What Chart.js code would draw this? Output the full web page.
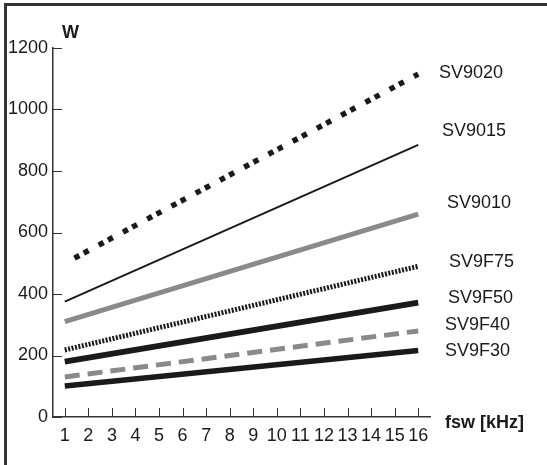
<!DOCTYPE html>
<html>
<head>
<meta charset="utf-8">
<script src="https://cdn.jsdelivr.net/npm/chart.js@4"></script>
<style>
  html, body { margin: 0; padding: 0; background: #fff; overflow: hidden; }
  canvas { display: block; }
</style>
</head>
<body>
<canvas id="chart" width="547" height="465"></canvas>
<script>
// ===============================
// DATA
// ===============================
const fsw = [1, 16];               // kHz, ends of each line
const xTicks = [1, 2, 3, 4, 5, 6, 7, 8, 9, 10, 11, 12, 13, 14, 15, 16];
const yTicks = [0, 200, 400, 600, 800, 1000, 1200];

const seriesNames = ["SV9020", "SV9015", "SV9010", "SV9F75", "SV9F50", "SV9F40", "SV9F30"];
const sv9020 = [500, 1115];
const sv9015 = [375, 885];
const sv9010 = [310, 660];
const sv9f75 = [218, 490];
const sv9f50 = [180, 372];
const sv9f40 = [130, 280];
const sv9f30 = [101, 216];
const seriesValues = [sv9020, sv9015, sv9010, sv9f75, sv9f50, sv9f40, sv9f30];

// ===============================
// STYLES
// ===============================
const FONT = "'Liberation Sans', Arial, Helvetica, sans-serif";
const INK = "#1a1a1a";
const GREY = "#8a8a8a";

const lineStyles = [
  { color: INK,  width: 5.5, dash: [5.5, 5, 5.5, 11.5], offset: 16.5 },
  { color: INK,  width: 2,   dash: [] },
  { color: GREY, width: 5,   dash: [] },
  { color: INK,  width: 5,   dash: [2, 1.5] },
  { color: INK,  width: 6,   dash: [] },
  { color: GREY, width: 5,   dash: [15, 8] },
  { color: INK,  width: 5.5, dash: [] }
];

// label placement (px), right of the plot
const labelPos = [
  { x: 439, y: 73 },
  { x: 442, y: 131 },
  { x: 447, y: 203 },
  { x: 449, y: 262 },
  { x: 448, y: 298 },
  { x: 445, y: 325 },
  { x: 445, y: 351 }
];

// ===============================
// PLUGINS
// ===============================
// open frame: only left and top edges show in the picture
const frame = {
  id: "frame",
  beforeDraw(chart) {
    const ctx = chart.ctx;
    ctx.save();
    ctx.strokeStyle = "#333";
    ctx.lineWidth = 3;
    ctx.beginPath();
    ctx.moveTo(5.5, chart.height);
    ctx.lineTo(5.5, 4.5);
    ctx.lineTo(chart.width, 4.5);
    ctx.stroke();
    ctx.restore();
  }
};

const innerTicks = {
  id: "innerTicks",
  afterDraw(chart) {
    const ctx = chart.ctx;
    const xs = chart.scales.x;
    const ys = chart.scales.y;
    ctx.save();
    ctx.strokeStyle = "#333";
    ctx.lineWidth = 1;
    ctx.beginPath();
    ys.ticks.forEach(t => {
      const y = Math.round(ys.getPixelForValue(t.value)) + 0.5;
      ctx.moveTo(xs.left, y);
      ctx.lineTo(xs.left + 9, y);
    });
    xs.ticks.forEach(t => {
      const x = Math.round(xs.getPixelForValue(t.value)) + 0.5;
      ctx.moveTo(x, ys.bottom);
      ctx.lineTo(x, ys.bottom - 9);
    });
    ctx.stroke();
    ctx.restore();
  }
};

const textPlugin = {
  id: "textPlugin",
  afterDraw(chart) {
    const ctx = chart.ctx;
    const xs = chart.scales.x;
    const ys = chart.scales.y;
    ctx.save();
    ctx.fillStyle = INK;
    ctx.textBaseline = "middle";
    ctx.textAlign = "left";

    ctx.font = "18px " + FONT;
    chart.data.datasets.forEach((ds, i) => {
      ctx.fillText(ds.label, labelPos[i].x, labelPos[i].y);
    });

    ctx.font = "bold 18px " + FONT;
    ctx.fillText("W", xs.left + 9, ys.top - 15);
    ctx.fillText("fsw [kHz]", xs.right + 15, ys.bottom + 6);
    ctx.restore();
  }
};

// ===============================
// CHART
// ===============================
const datasets = seriesNames.map((name, i) => ({
  label: name,
  data: fsw.map((x, j) => ({ x, y: seriesValues[i][j] })),
  borderColor: lineStyles[i].color,
  borderWidth: lineStyles[i].width,
  borderDash: lineStyles[i].dash,
  borderDashOffset: lineStyles[i].offset || 0,
  borderCapStyle: "butt",
  pointRadius: 0,
  tension: 0,
  fill: false
}));

new Chart(document.getElementById("chart"), {
  type: "line",
  data: { datasets },
  options: {
    responsive: false,
    animation: false,
    layout: { padding: { top: 48, right: 117, left: 0, bottom: 0 } },
    plugins: {
      legend: { display: false },
      tooltip: { enabled: false }
    },
    scales: {
      x: {
        type: "linear",
        min: 0.5,
        max: 16.5,
        afterBuildTicks: s => { s.ticks = xTicks.map(v => ({ value: v })); },
        afterFit: s => { s.height = 48; },
        grid: { display: false, drawTicks: false },
        border: { display: true, color: "#333", width: 1.5 },
        ticks: {
          color: INK,
          padding: 8,
          maxRotation: 0,
          autoSkip: false,
          callback: v => String(v),
          font: { family: FONT, size: 18 }
        }
      },
      y: {
        type: "linear",
        min: 0,
        max: 1200,
        afterBuildTicks: s => { s.ticks = yTicks.map(v => ({ value: v })); },
        afterFit: s => { s.width = 53; },
        grid: { display: false, drawTicks: false },
        border: { display: true, color: "#333", width: 1.5 },
        ticks: {
          color: INK,
          padding: 5,
          callback: v => String(v),
          font: { family: FONT, size: 18 }
        }
      }
    }
  },
  plugins: [frame, innerTicks, textPlugin]
});
</script>
</body>
</html>
